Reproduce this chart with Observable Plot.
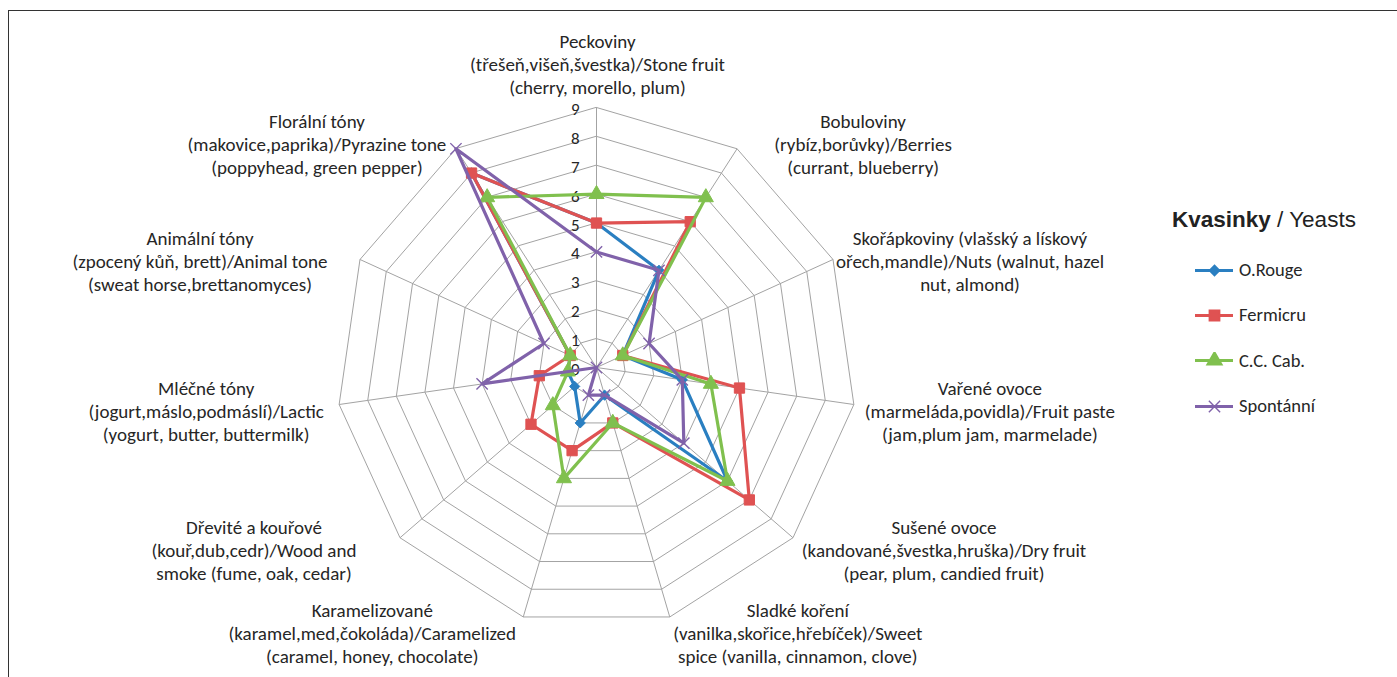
<!DOCTYPE html>
<html>
<head>
<meta charset="utf-8">
<script src="https://cdn.jsdelivr.net/npm/d3@7"></script>
<script src="https://cdn.jsdelivr.net/npm/@observablehq/plot@0.6"></script>
<style>
html, body { margin: 0; padding: 0; background: #fff; }
#wrap { position: relative; width: 1397px; height: 677px; overflow: hidden; }
#frame { position: absolute; left: 8px; top: 10px; width: 1420px; height: 720px; border: 1.8px solid #333; box-sizing: border-box; pointer-events: none; }
#chart { position: absolute; left: 0; top: 0; }
#legend { position: absolute; left: 1172px; top: 206px; font-family: Carlito, Calibri, Lato, "Open Sans", sans-serif; color: #262626; }
#legend .title { font-family: "Liberation Sans", Arial, sans-serif; font-size: 22.5px; line-height: 28px; color: #222; margin-bottom: 13px; white-space: nowrap; }
#legend .item { display: flex; align-items: center; height: 45.3px; margin-left: 22px; font-size: 18.5px; }
#legend .item svg { margin-right: 5px; }
</style>
</head>
<body>
<div id="wrap">
  <div id="chart"></div>
  <div id="frame"></div>
  <div id="legend"></div>
</div>
<script>
// ---- data ----
const categories = [
  "Peckoviny\n(třešeň,višeň,švestka)/Stone fruit\n(cherry, morello, plum)",
  "Bobuloviny\n(rybíz,borůvky)/Berries\n(currant, blueberry)",
  "Skořápkoviny (vlašský a lískový\nořech,mandle)/Nuts (walnut, hazel\nnut, almond)",
  "Vařené ovoce\n(marmeláda,povidla)/Fruit paste\n(jam,plum jam, marmelade)",
  "Sušené ovoce\n(kandované,švestka,hruška)/Dry fruit\n(pear, plum, candied fruit)",
  "Sladké koření\n(vanilka,skořice,hřebíček)/Sweet\nspice (vanilla, cinnamon, clove)",
  "Karamelizované\n(karamel,med,čokoláda)/Caramelized\n(caramel, honey, chocolate)",
  "Dřevité a kouřové\n(kouř,dub,cedr)/Wood and\nsmoke (fume, oak, cedar)",
  "Mléčné tóny\n(jogurt,máslo,podmáslí)/Lactic\n(yogurt, butter, buttermilk)",
  "Animální tóny\n(zpocený kůň, brett)/Animal tone\n(sweat horse,brettanomyces)",
  "Florální tóny\n(makovice,paprika)/Pyrazine tone\n(poppyhead, green pepper)"
];
const oRouge    = [5, 4, 1, 3, 6, 1, 2, 1, 1, 1, 8];
const fermicru  = [5, 6, 1, 5, 7, 2, 3, 3, 2, 1, 8];
const ccCab     = [6, 7, 1, 4, 6, 2, 4, 2, 1, 1, 7];
const spontanni = [4, 4, 2, 3, 4, 1, 1, 0, 4, 2, 9];
const seriesNames = ["O.Rouge", "Fermicru", "C.C. Cab.", "Spontánní"];
const tickValues = [0, 1, 2, 3, 4, 5, 6, 7, 8, 9];
const legendTitleBold = "Kvasinky";
const legendTitleRest = " / Yeasts";

// ---- styling / layout ----
const colors = ["#2a7fc1", "#df5252", "#80c04e", "#8062aa"];
const symbols = ["diamond2", "square", "triangle", "times"];
const symbolR = [4.6, 5.8, 5.6, 5.2];
const W = 1397, H = 677;
const cx = 596, cy = 367, Rmax = 260, vmax = 9;
const U = Rmax / vmax;
// pixel offsets of label block centers from the outer spoke end
const labelOffsets = [[1,-44],[126,-5],[137,1],[136,6],[151,12],[128,16],[-151,16],[-146,12],[-133,6],[-160,1],[-139,-5]];
const FONT = "Carlito, Calibri, Lato, 'Open Sans', sans-serif";
const TEXT = "#262626";

const N = categories.length;
const ang = k => 2 * Math.PI * k / N;
const px = (k, v) => v * Math.sin(ang(k));
const py = (k, v) => v * Math.cos(ang(k));

const seriesValues = [oRouge, fermicru, ccCab, spontanni];
const rows = [];
seriesValues.forEach((vals, s) => vals.forEach((v, k) => rows.push({series: seriesNames[s], s, k, v, x: px(k, v), y: py(k, v)})));

const rings = [];
for (let r = 1; r <= vmax; r++) for (let k = 0; k < N; k++) rings.push({r, x: px(k, r), y: py(k, r)});
const spokes = d3.range(N).map(k => ({k, x2: px(k, vmax), y2: py(k, vmax)}));

const marks = [
  Plot.line(rings, {x: "x", y: "y", z: "r", curve: "linear-closed", stroke: "#a3a3a3", strokeWidth: 1}),
  Plot.link(spokes, {x1: 0, y1: 0, x2: "x2", y2: "y2", stroke: "#a3a3a3", strokeWidth: 1}),
  Plot.text(tickValues, {x: 0, y: d => d, text: d => String(d), textAnchor: "end", dx: -17, dy: 2, fontSize: 17, fill: TEXT, fontFamily: FONT})
];
seriesNames.forEach((name, s) => {
  const data = rows.filter(d => d.s === s);
  marks.push(Plot.line(data, {x: "x", y: "y", curve: "linear-closed", stroke: colors[s], strokeWidth: 3.2, strokeLinejoin: "round"}));
  if (symbols[s] === "times") {
    marks.push(Plot.dot(data, {x: "x", y: "y", symbol: "times", r: symbolR[s], stroke: colors[s], strokeWidth: 1.4}));
  } else {
    marks.push(Plot.dot(data, {x: "x", y: "y", symbol: symbols[s], r: symbolR[s], fill: colors[s], stroke: colors[s], strokeWidth: 1}));
  }
});
categories.forEach((label, k) => {
  marks.push(Plot.text([label], {
    x: () => px(k, vmax), y: () => py(k, vmax), text: d => d,
    dx: labelOffsets[k][0], dy: labelOffsets[k][1],
    textAnchor: "middle", lineAnchor: "middle", lineHeight: 1.21,
    fontSize: 19, fill: TEXT, fontFamily: FONT
  }));
});

const chart = Plot.plot({
  width: W, height: H, margin: 0,
  x: {domain: [-cx / U, (W - cx) / U], range: [0, W], axis: null},
  y: {domain: [-(H - cy) / U, cy / U], range: [H, 0], axis: null},
  style: {background: "transparent", overflow: "visible"},
  marks
});
document.getElementById("chart").appendChild(chart);

// ---- legend ----
const legend = document.getElementById("legend");
const t = document.createElement("div");
t.className = "title";
const b = document.createElement("b"); b.textContent = legendTitleBold;
t.appendChild(b); t.appendChild(document.createTextNode(legendTitleRest));
legend.appendChild(t);
seriesNames.forEach((name, s) => {
  const item = document.createElement("div");
  item.className = "item";
  const sw = Plot.plot({
    width: 40, height: 16, margin: 0,
    x: {domain: [0, 40], range: [0, 40], axis: null},
    y: {domain: [0, 16], range: [16, 0], axis: null},
    marks: [
      Plot.ruleY([8], {x1: 1, x2: 39, stroke: colors[s], strokeWidth: 2.8}),
      symbols[s] === "times"
        ? Plot.dot([[20, 8]], {x: d => d[0], y: d => d[1], symbol: "times", r: symbolR[s], stroke: colors[s], strokeWidth: 1.4})
        : Plot.dot([[20, 8]], {x: d => d[0], y: d => d[1], symbol: symbols[s], r: symbolR[s], fill: colors[s], stroke: colors[s]})
    ]
  });
  item.appendChild(sw);
  const lab = document.createElement("span"); lab.textContent = name;
  item.appendChild(lab);
  legend.appendChild(item);
});
</script>
</body>
</html>
